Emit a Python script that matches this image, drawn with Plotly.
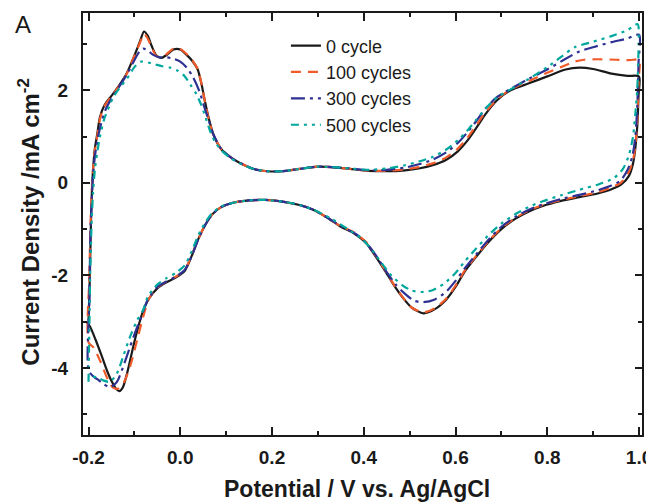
import plotly.graph_objects as go

# ---------------- data ----------------
series_names = ["0 cycle", "100 cycles", "300 cycles", "500 cycles"]

# 0 cycle: anodic sweep (-0.2 -> 1.0) followed by cathodic sweep (1.0 -> -0.2)
x_0 = [-0.200, -0.197, -0.195, -0.193, -0.190, -0.186, -0.181, -0.175, -0.165, -0.150,
       -0.135, -0.116, -0.100, -0.088, -0.079, -0.071, -0.062, -0.052, -0.042, -0.030,
       -0.015, 0.000, 0.012, 0.025, 0.038, 0.046, 0.054, 0.062, 0.072, 0.090,
       0.110, 0.130, 0.160, 0.190, 0.220, 0.260, 0.300, 0.330, 0.370, 0.410,
       0.450, 0.490, 0.520, 0.550, 0.580, 0.605, 0.625, 0.645, 0.665, 0.690,
       0.720, 0.760, 0.800, 0.840, 0.870, 0.900, 0.940, 0.975, 1.000,
       0.999, 0.996, 0.992, 0.987, 0.978, 0.962, 0.940, 0.910, 0.870, 0.830,
       0.790, 0.760, 0.730, 0.700, 0.670, 0.645, 0.620, 0.600, 0.580, 0.555,
       0.530, 0.505, 0.485, 0.465, 0.445, 0.425, 0.405, 0.380, 0.350, 0.320,
       0.290, 0.260, 0.220, 0.185, 0.150, 0.115, 0.090, 0.070, 0.055, 0.040,
       0.025, 0.010, -0.010, -0.030, -0.050, -0.068, -0.082, -0.094, -0.105, -0.116,
       -0.125, -0.132, -0.140, -0.150, -0.160, -0.172, -0.185, -0.197, -0.205]
y_0 = [-2.98, -2.00, -1.00, -0.30, 0.30, 0.75, 1.05, 1.42, 1.68, 1.88,
       2.08, 2.38, 2.75, 3.05, 3.27, 3.18, 2.95, 2.75, 2.70, 2.76,
       2.88, 2.88, 2.78, 2.65, 2.45, 2.15, 1.75, 1.40, 1.05, 0.72,
       0.55, 0.43, 0.30, 0.25, 0.25, 0.30, 0.35, 0.34, 0.30, 0.26,
       0.25, 0.27, 0.31, 0.38, 0.50, 0.68, 0.90, 1.18, 1.48, 1.78,
       2.00, 2.15, 2.30, 2.45, 2.49, 2.46, 2.36, 2.31, 2.30,
       1.90, 1.20, 0.75, 0.42, 0.15, -0.03, -0.14, -0.23, -0.31, -0.39,
       -0.50, -0.62, -0.78, -1.00, -1.30, -1.60, -1.92, -2.25, -2.52, -2.73,
       -2.82, -2.70, -2.48, -2.20, -1.88, -1.58, -1.30, -1.10, -0.95, -0.75,
       -0.58, -0.48, -0.40, -0.37, -0.38, -0.43, -0.52, -0.68, -0.90, -1.20,
       -1.58, -1.90, -2.05, -2.15, -2.28, -2.50, -2.80, -3.20, -3.65, -4.12,
       -4.42, -4.50, -4.45, -4.28, -4.05, -3.72, -3.38, -3.10, -3.00]

# 100 cycles
x_100 = [-0.200, -0.198, -0.196, -0.193, -0.190, -0.186, -0.181, -0.175, -0.165, -0.150,
         -0.135, -0.116, -0.100, -0.088, -0.079, -0.071, -0.062, -0.052, -0.042, -0.030,
         -0.015, 0.000, 0.012, 0.025, 0.038, 0.046, 0.054, 0.062, 0.072, 0.090,
         0.110, 0.130, 0.160, 0.190, 0.220, 0.260, 0.300, 0.330, 0.370, 0.410,
         0.450, 0.490, 0.520, 0.550, 0.580, 0.605, 0.625, 0.645, 0.665, 0.690,
         0.720, 0.760, 0.800, 0.830, 0.860, 0.880, 0.910, 0.950, 0.980, 1.000,
         0.999, 0.996, 0.992, 0.986, 0.976, 0.960, 0.940, 0.910, 0.870, 0.830,
         0.790, 0.760, 0.730, 0.700, 0.670, 0.645, 0.620, 0.600, 0.580, 0.555,
         0.530, 0.505, 0.485, 0.465, 0.445, 0.425, 0.405, 0.380, 0.350, 0.320,
         0.290, 0.260, 0.220, 0.185, 0.150, 0.115, 0.090, 0.070, 0.055, 0.040,
         0.025, 0.010, -0.010, -0.030, -0.050, -0.068, -0.081, -0.094, -0.110, -0.125,
         -0.136, -0.147, -0.157, -0.175, -0.189, -0.200]
y_100 = [-3.45, -2.00, -1.00, -0.20, 0.30, 0.70, 1.00, 1.38, 1.66, 1.87,
         2.07, 2.37, 2.74, 3.02, 3.22, 3.12, 2.92, 2.74, 2.71, 2.78,
         2.90, 2.89, 2.80, 2.66, 2.46, 2.15, 1.74, 1.38, 1.04, 0.72,
         0.55, 0.43, 0.30, 0.25, 0.25, 0.30, 0.35, 0.34, 0.30, 0.26,
         0.26, 0.29, 0.34, 0.42, 0.55, 0.74, 0.96, 1.24, 1.52, 1.80,
         2.02, 2.20, 2.38, 2.50, 2.62, 2.66, 2.67, 2.66, 2.65, 2.66,
         2.20, 1.30, 0.80, 0.45, 0.20, 0.00, -0.10, -0.20, -0.29, -0.37,
         -0.48, -0.60, -0.76, -0.98, -1.28, -1.58, -1.90, -2.22, -2.50, -2.71,
         -2.80, -2.70, -2.47, -2.19, -1.86, -1.56, -1.28, -1.08, -0.94, -0.75,
         -0.58, -0.48, -0.40, -0.37, -0.38, -0.43, -0.52, -0.68, -0.90, -1.20,
         -1.56, -1.88, -2.03, -2.13, -2.27, -2.50, -2.90, -3.40, -3.99, -4.35,
         -4.45, -4.42, -4.27, -3.84, -3.56, -3.45]

# 300 cycles
x_300 = [-0.200, -0.198, -0.196, -0.193, -0.190, -0.185, -0.179, -0.172, -0.162, -0.150,
         -0.135, -0.116, -0.100, -0.088, -0.080, -0.070, -0.058, -0.044, -0.029, -0.015,
         0.000, 0.015, 0.028, 0.042, 0.052, 0.062, 0.072, 0.090,
         0.110, 0.130, 0.160, 0.190, 0.220, 0.260, 0.300, 0.330, 0.370, 0.410,
         0.450, 0.490, 0.520, 0.550, 0.580, 0.605, 0.625, 0.645, 0.665, 0.690,
         0.720, 0.760, 0.800, 0.840, 0.870, 0.900, 0.940, 0.975, 1.000,
         0.999, 0.996, 0.992, 0.986, 0.976, 0.960, 0.940, 0.910, 0.870, 0.830,
         0.790, 0.760, 0.730, 0.700, 0.670, 0.645, 0.620, 0.600, 0.580, 0.555,
         0.530, 0.510, 0.490, 0.470, 0.450, 0.430, 0.410, 0.385, 0.355, 0.320,
         0.290, 0.260, 0.220, 0.185, 0.150, 0.115, 0.090, 0.070, 0.055, 0.040,
         0.025, 0.010, -0.010, -0.030, -0.050, -0.072, -0.085, -0.094, -0.110, -0.125,
         -0.138, -0.153, -0.168, -0.180, -0.190, -0.200]
y_300 = [-4.05, -2.50, -1.20, -0.40, 0.20, 0.65, 1.00, 1.30, 1.60, 1.82,
         2.05, 2.35, 2.65, 2.85, 2.90, 2.85, 2.76, 2.71, 2.71, 2.68,
         2.62, 2.48, 2.28, 1.97, 1.65, 1.35, 1.05, 0.72,
         0.55, 0.43, 0.30, 0.25, 0.25, 0.30, 0.35, 0.34, 0.31, 0.27,
         0.28, 0.33, 0.40, 0.50, 0.66, 0.86, 1.08, 1.33, 1.60, 1.85,
         2.03, 2.25, 2.45, 2.68, 2.84, 2.93, 3.04, 3.12, 3.20,
         2.60, 1.60, 1.00, 0.60, 0.30, 0.05, -0.06, -0.16, -0.26, -0.35,
         -0.47, -0.58, -0.74, -0.95, -1.25, -1.55, -1.85, -2.12, -2.35, -2.52,
         -2.58, -2.55, -2.40, -2.20, -1.93, -1.62, -1.35, -1.12, -0.96, -0.75,
         -0.58, -0.48, -0.40, -0.37, -0.38, -0.43, -0.52, -0.68, -0.90, -1.20,
         -1.58, -1.88, -2.03, -2.13, -2.25, -2.55, -2.90, -3.12, -3.56, -3.99,
         -4.30, -4.42, -4.34, -4.25, -4.18, -4.05]

# 500 cycles
x_500 = [-0.200, -0.198, -0.196, -0.193, -0.190, -0.186, -0.181, -0.175, -0.166, -0.155,
         -0.146, -0.130, -0.116, -0.100, -0.085, -0.070, -0.055, -0.040, -0.022, -0.005,
         0.010, 0.022, 0.035, 0.045, 0.055, 0.065, 0.075, 0.090,
         0.110, 0.130, 0.160, 0.190, 0.220, 0.260, 0.300, 0.330, 0.370, 0.410,
         0.450, 0.490, 0.520, 0.550, 0.580, 0.605, 0.625, 0.645, 0.665, 0.690,
         0.720, 0.760, 0.800, 0.830, 0.860, 0.900, 0.940, 0.975, 0.997,
         0.999, 0.996, 0.992, 0.987, 0.978, 0.965, 0.945, 0.910, 0.870, 0.830,
         0.790, 0.760, 0.730, 0.700, 0.670, 0.645, 0.620, 0.600, 0.575, 0.550,
         0.525, 0.505, 0.485, 0.460, 0.440, 0.420, 0.395, 0.365, 0.330,
         0.290, 0.260, 0.220, 0.185, 0.150, 0.115, 0.090, 0.070, 0.055, 0.040,
         0.025, 0.010, -0.010, -0.030, -0.050, -0.070, -0.081, -0.094, -0.110, -0.125,
         -0.138, -0.153, -0.168, -0.181, -0.200]
y_500 = [-4.30, -3.00, -1.80, -0.80, -0.20, 0.30, 0.65, 1.00, 1.37, 1.65,
         1.85, 2.08, 2.25, 2.50, 2.62, 2.60, 2.56, 2.52, 2.49, 2.42,
         2.30, 2.12, 1.92, 1.70, 1.42, 1.12, 0.90, 0.70,
         0.53, 0.42, 0.30, 0.25, 0.25, 0.30, 0.35, 0.34, 0.31, 0.28,
         0.31, 0.38, 0.46, 0.56, 0.72, 0.92, 1.12, 1.36, 1.60, 1.84,
         2.02, 2.25, 2.50, 2.72, 2.93, 3.05, 3.17, 3.30, 3.43,
         3.00, 2.00, 1.50, 1.00, 0.60, 0.30, 0.10, -0.04, -0.15, -0.27,
         -0.40, -0.52, -0.68, -0.88, -1.15, -1.42, -1.70, -1.95, -2.18, -2.32,
         -2.36, -2.33, -2.22, -2.00, -1.75, -1.48, -1.20, -1.00, -0.78,
         -0.58, -0.48, -0.40, -0.37, -0.38, -0.43, -0.51, -0.65, -0.85, -1.12,
         -1.48, -1.78, -1.95, -2.06, -2.20, -2.45, -2.75, -2.97, -3.34, -3.77,
         -4.12, -4.30, -4.27, -4.20, -4.20]

x_ticks = [-0.2, 0.0, 0.2, 0.4, 0.6, 0.8, 1.0]
x_tick_labels = ["-0.2", "0.0", "0.2", "0.4", "0.6", "0.8", "1.0"]
y_ticks = [-4, -2, 0, 2]
y_tick_labels = ["-4", "-2", "0", "2"]

# ---------------- styling ----------------
colors = ["#1a1a1a", "#f15a29", "#2e3192", "#00a79d"]
dashes = ["solid", "10px,7px", "14px,5px,3px,5px", "8px,5px,3px,5px,3px,5px"]
xs = [x_0, x_100, x_300, x_500]
ys = [y_0, y_100, y_300, y_500]

FONT = "Liberation Sans, Arial, Helvetica, sans-serif"

fig = go.Figure()
for name, xv, yv, c, d in zip(series_names, xs, ys, colors, dashes):
    fig.add_trace(go.Scatter(
        x=xv, y=yv, name=name, mode="lines",
        line=dict(color=c, width=2.2, dash=d, shape="spline", smoothing=0.7),
    ))

axis_common = dict(
    showgrid=False, zeroline=False, showline=True, linecolor="#1a1a1a", linewidth=2,
    mirror="allticks", ticks="inside", tickcolor="#1a1a1a", tickwidth=1.8,
    tickfont=dict(family=FONT, size=19, color="#1a1a1a", weight="bold"),
)

fig.update_xaxes(
    range=[-0.212, 1.0065], tickvals=x_ticks, ticktext=x_tick_labels, ticklen=8,
    ticklabelstandoff=4, ticklabeloverflow="allow",
    minor=dict(dtick=0.1, tick0=0, ticks="inside", ticklen=4, tickwidth=1.8, tickcolor="#1a1a1a"),
    **axis_common,
)
fig.update_yaxes(
    range=[-5.45, 3.67], tickvals=y_ticks, ticktext=y_tick_labels, ticklen=7,
    ticklabelstandoff=9,
    minor=dict(dtick=2, tick0=1, ticks="inside", ticklen=4, tickwidth=1.8, tickcolor="#1a1a1a"),
    **axis_common,
)

# page has an 8px body margin, so the figure is sized/offset to compensate
fig.update_layout(
    width=646, height=496,
    margin=dict(l=75, r=12, t=5, b=69, autoexpand=False),
    paper_bgcolor="white", plot_bgcolor="white",
    showlegend=True,
    legend=dict(
        x=0.363, y=0.966, xanchor="left", yanchor="top",
        bgcolor="rgba(0,0,0,0)", borderwidth=0,
        font=dict(family=FONT, size=18, color="#1a1a1a"),
        tracegroupgap=0, itemwidth=30,
    ),
    annotations=[
        dict(text="A", xref="paper", yref="paper", x=-0.107, y=0.9716,
             xanchor="center", yanchor="middle", showarrow=False,
             font=dict(family=FONT, size=24, color="#1a1a1a")),
        dict(text="Current Density /mA cm<sup>-2</sup>", xref="paper", yref="paper",
             x=-0.097, y=0.505, xanchor="center", yanchor="middle", textangle=-90,
             showarrow=False,
             font=dict(family=FONT, size=24, color="#1a1a1a", weight="bold")),
        dict(text="Potential / V vs. Ag/AgCl", xref="paper", yref="paper",
             x=0.49, y=-0.128, xanchor="center", yanchor="middle", showarrow=False,
             font=dict(family=FONT, size=23, color="#1a1a1a", weight="bold")),
    ],
)

fig.write_html("out.html")
